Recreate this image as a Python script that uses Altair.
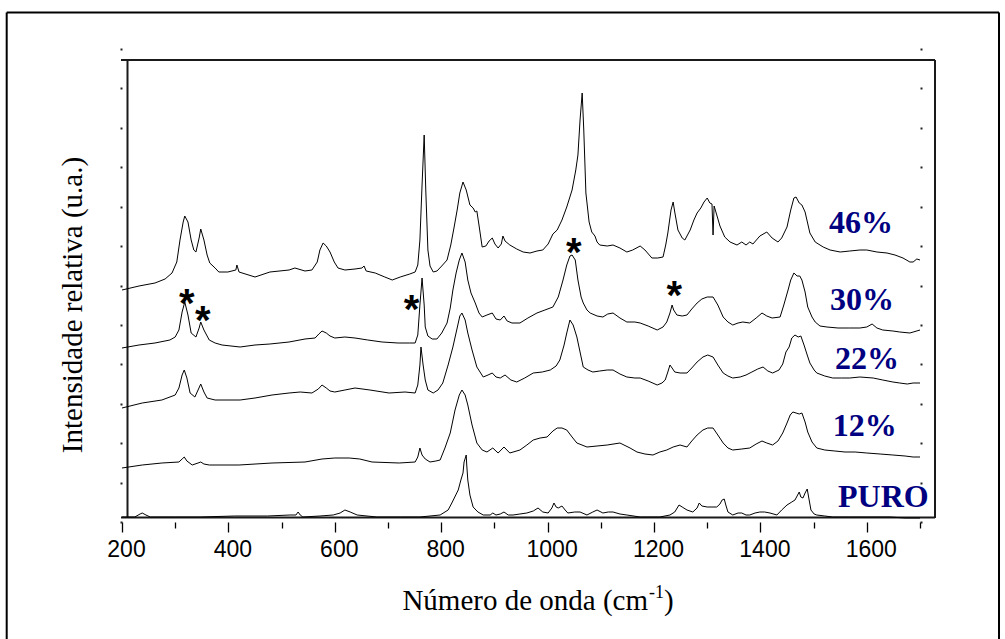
import altair as alt
import pandas as pd

# ---- data: wavenumber (cm-1) and relative intensity (a.u.) ----
x46 = [200, 232, 262, 281, 294, 303, 309, 315, 318, 324, 330, 335, 339, 345, 348, 354, 360, 365, 375, 382,
       399, 414, 416, 420, 450, 478, 514, 525, 544, 557, 567, 572, 578, 584, 591, 599, 606, 619, 638, 651,
       655, 659, 676, 694, 708, 723, 741, 751, 756, 760, 764, 768, 771, 775, 779, 785, 792, 801, 811, 818,
       824, 830, 835, 841, 847, 854, 860, 864, 867, 871, 877, 884, 890, 896, 901, 907, 913, 916, 920, 929,
       942, 954, 967, 980, 991, 1001, 1010, 1018, 1027, 1036, 1046, 1053, 1057, 1061, 1065, 1068, 1072, 1078, 1083, 1089,
       1093, 1098, 1112, 1123, 1136, 1149, 1160, 1174, 1183, 1196, 1207, 1217, 1222, 1226, 1232, 1236, 1239, 1245, 1253, 1258,
       1268, 1275, 1281, 1288, 1294, 1300, 1305, 1309, 1311, 1313, 1318, 1324, 1333, 1343, 1356, 1365, 1373, 1380, 1386, 1399,
       1412, 1422, 1433, 1440, 1450, 1457, 1463, 1467, 1473, 1478, 1484, 1493, 1503, 1518, 1531, 1550, 1568, 1587, 1600, 1619,
       1638, 1653, 1668, 1681, 1687, 1694, 1700]
y46 = [232, 236, 239, 243, 249, 260, 282, 300, 306, 300, 282, 272, 270, 284, 293, 282, 267, 259, 254, 250,
       250, 252, 257, 250, 245, 250, 252, 254, 251, 252, 260, 272, 279, 276, 270, 260, 254, 252, 253, 254,
       256, 251, 249, 245, 242, 245, 248, 250, 257, 282, 337, 387, 332, 272, 256, 250, 251, 256, 262, 277,
       294, 312, 329, 340, 332, 317, 314, 310, 311, 297, 275, 276, 281, 284, 278, 274, 278, 286, 281, 277,
       273, 270, 269, 271, 272, 278, 288, 292, 302, 315, 332, 352, 367, 402, 429, 392, 329, 300, 290, 286,
       280, 277, 276, 277, 274, 270, 272, 276, 272, 264, 264, 265, 277, 289, 312, 320, 310, 292, 284, 282,
       292, 302, 309, 314, 320, 324, 319, 318, 287, 316, 307, 296, 285, 280, 277, 280, 277, 280, 278, 286,
       290, 284, 280, 284, 295, 312, 324, 325, 319, 317, 310, 289, 280, 275, 272, 270, 271, 272, 272, 270,
       269, 267, 264, 260, 260, 263, 262]

x30 = [200, 232, 262, 290, 300, 307, 313, 318, 324, 330, 339, 345, 348, 354, 364, 375, 388, 422, 450, 478,
       514, 544, 563, 570, 576, 584, 591, 600, 619, 638, 662, 689, 719, 741, 751, 756, 760, 764, 768, 770,
       775, 783, 792, 801, 811, 817, 822, 828, 834, 839, 845, 850, 856, 864, 871, 877, 886, 896, 903, 911,
       918, 924, 933, 948, 963, 980, 995, 1010, 1020, 1029, 1036, 1042, 1046, 1052, 1057, 1063, 1067, 1074, 1080, 1093,
       1104, 1113, 1123, 1136, 1149, 1164, 1174, 1189, 1206, 1217, 1224, 1230, 1234, 1237, 1243, 1253, 1262, 1271, 1281, 1290,
       1300, 1311, 1320, 1330, 1339, 1348, 1358, 1367, 1380, 1392, 1403, 1412, 1422, 1437, 1444, 1452, 1457, 1463, 1469, 1474,
       1478, 1484, 1489, 1497, 1503, 1512, 1525, 1546, 1568, 1587, 1600, 1610, 1619, 1630, 1649, 1662, 1681, 1700]
y30 = [174, 177, 179, 182, 185, 192, 210, 220, 207, 189, 185, 194, 200, 192, 182, 179, 177, 175, 177, 178,
       180, 183, 184, 188, 191, 189, 186, 184, 185, 184, 182, 180, 179, 179, 179, 187, 217, 244, 217, 195,
       186, 183, 183, 189, 199, 214, 232, 249, 262, 269, 260, 242, 229, 219, 209, 205, 207, 209, 203, 202,
       206, 201, 199, 199, 204, 209, 212, 215, 225, 242, 257, 266, 267, 262, 242, 225, 219, 212, 209, 206,
       205, 208, 209, 204, 200, 200, 199, 196, 192, 195, 200, 209, 217, 212, 207, 206, 207, 213, 219, 223,
       225, 225, 217, 205, 200, 197, 199, 200, 199, 204, 209, 206, 204, 205, 217, 232, 242, 249, 246, 246,
       242, 230, 215, 205, 200, 196, 195, 194, 194, 194, 195, 198, 194, 192, 191, 190, 189, 192]

x22 = [200, 238, 275, 300, 307, 313, 317, 322, 328, 337, 343, 348, 354, 360, 375, 388, 422, 450, 482, 514,
       535, 557, 569, 576, 584, 591, 600, 619, 638, 666, 702, 732, 751, 756, 760, 762, 766, 770, 775, 785,
       794, 803, 813, 822, 830, 835, 839, 845, 850, 858, 867, 879, 888, 896, 903, 911, 920, 931, 942, 957,
       973, 990, 1005, 1016, 1023, 1031, 1036, 1042, 1048, 1055, 1061, 1067, 1076, 1085, 1098, 1112, 1123, 1136, 1149, 1164,
       1174, 1189, 1206, 1215, 1221, 1226, 1230, 1234, 1239, 1249, 1262, 1271, 1281, 1292, 1301, 1311, 1320, 1330, 1339, 1348,
       1362, 1373, 1384, 1395, 1405, 1414, 1423, 1435, 1442, 1448, 1454, 1459, 1465, 1471, 1476, 1482, 1488, 1493, 1501, 1506,
       1521, 1536, 1553, 1568, 1587, 1612, 1630, 1649, 1662, 1676, 1687, 1700]
y22 = [114, 119, 122, 127, 134, 147, 152, 144, 129, 125, 132, 138, 130, 124, 122, 122, 122, 124, 127, 129,
       130, 129, 133, 137, 134, 131, 130, 132, 134, 132, 129, 130, 129, 137, 157, 175, 157, 142, 132, 129,
       132, 139, 157, 175, 194, 206, 209, 202, 189, 172, 155, 145, 147, 149, 145, 144, 147, 142, 140, 144,
       149, 150, 152, 156, 162, 177, 189, 202, 197, 185, 170, 155, 152, 150, 151, 152, 152, 148, 145, 144,
       144, 141, 137, 139, 142, 150, 157, 154, 150, 149, 149, 154, 160, 165, 167, 165, 157, 149, 146, 144,
       145, 147, 150, 153, 155, 151, 149, 152, 158, 170, 175, 184, 187, 185, 186, 177, 167, 159, 152, 149,
       146, 144, 144, 144, 145, 144, 142, 140, 139, 138, 139, 139]

x12 = [200, 238, 275, 307, 313, 317, 322, 332, 343, 348, 354, 364, 420, 482, 544, 576, 600, 627, 647, 670,
       721, 751, 756, 760, 764, 770, 779, 790, 798, 807, 817, 826, 834, 839, 845, 850, 858, 867, 877, 886,
       897, 907, 918, 929, 948, 961, 973, 986, 999, 1010, 1018, 1027, 1036, 1046, 1055, 1074, 1093, 1112, 1136, 1155,
       1168, 1183, 1198, 1211, 1224, 1236, 1249, 1262, 1271, 1281, 1292, 1301, 1311, 1320, 1330, 1339, 1348, 1365, 1380, 1392,
       1403, 1412, 1423, 1433, 1442, 1450, 1456, 1461, 1467, 1473, 1478, 1484, 1489, 1497, 1506, 1521, 1540, 1559, 1578, 1600,
       1625, 1649, 1672, 1687, 1700]
y12 = [54, 57, 59, 60, 63, 65, 61, 57, 59, 60, 58, 57, 57, 59, 60, 63, 64, 64, 63, 60,
       59, 60, 65, 74, 67, 63, 60, 61, 62, 74, 89, 112, 127, 132, 127, 117, 97, 79, 72, 70,
       74, 69, 75, 69, 72, 77, 82, 84, 85, 91, 94, 94, 92, 85, 79, 75, 76, 77, 79, 74,
       70, 68, 67, 70, 72, 75, 77, 75, 81, 87, 92, 94, 94, 87, 79, 74, 72, 73, 74, 78,
       81, 79, 77, 81, 89, 99, 107, 110, 109, 108, 109, 100, 90, 80, 74, 72, 71, 70, 70, 69,
       68, 67, 66, 65, 65]

x0 = [200, 224, 234, 238, 245, 253, 300, 347, 412, 473, 516, 527, 531, 535, 540, 572, 597, 610, 619, 629,
      642, 679, 723, 760, 798, 813, 820, 832, 837, 841, 843, 847, 848, 850, 854, 860, 869, 879, 892, 897,
      903, 911, 918, 926, 935, 948, 961, 973, 982, 991, 1001, 1008, 1012, 1016, 1020, 1027, 1033, 1038, 1051, 1061,
      1074, 1085, 1093, 1104, 1114, 1123, 1136, 1149, 1174, 1211, 1230, 1239, 1247, 1253, 1262, 1273, 1281, 1285, 1290, 1300,
      1309, 1318, 1324, 1328, 1332, 1335, 1339, 1348, 1358, 1365, 1373, 1380, 1390, 1399, 1408, 1418, 1431, 1440, 1450, 1459,
      1465, 1469, 1473, 1476, 1480, 1484, 1488, 1491, 1495, 1501, 1506, 1521, 1536, 1568, 1600, 1644, 1672, 1700]
y0 = [5, 5, 8, 9, 7, 5, 5, 5, 6, 6, 7, 7, 10, 7, 5, 6, 7, 9, 12, 10,
      7, 5, 5, 5, 7, 12, 19, 32, 42, 49, 60, 67, 57, 42, 27, 15, 10, 7, 7, 9,
      7, 8, 10, 7, 7, 8, 9, 11, 14, 10, 9, 14, 19, 15, 14, 16, 12, 9, 10, 10,
      7, 10, 12, 9, 10, 10, 8, 7, 5, 5, 7, 10, 17, 15, 12, 10, 14, 19, 16, 15,
      15, 15, 18, 22, 23, 17, 10, 7, 9, 9, 7, 7, 9, 10, 10, 9, 7, 12, 17, 20,
      22, 26, 30, 25, 24, 29, 33, 24, 12, 8, 7, 6, 5, 5, 5, 5, 4, 4]

series_names = ["46%", "30%", "22%", "12%", "PURO"]
series_x = [x46, x30, x22, x12, x0]
series_y = [y46, y30, y22, y12, y0]

# series labels (anchor in data coordinates)
label_x = [1529, 1531, 1540, 1536, 1546]
label_y = [289, 212, 153, 86, 15]

# asterisks marking peaks (data coordinates)
star_x = [322, 352, 744, 1049, 1238]
star_y = [228, 211, 222, 279.5, 236.5]

major_ticks = [200, 400, 600, 800, 1000, 1200, 1400, 1600]
minor_ticks = [300, 500, 700, 900, 1100, 1300, 1500, 1700]
y_ticks = [0, 39.4, 78.8, 118.3, 157.7, 197.1, 236.5, 275.9, 315.4, 354.8, 394.2, 433.6, 473]

# ---- build tables ----
frames = []
for name, xs, ys in zip(series_names, series_x, series_y):
    frames.append(pd.DataFrame({"serie": name, "onda": xs, "intens": ys, "ordem": list(range(len(xs)))}))
spectra = pd.concat(frames, ignore_index=True)
labels = pd.DataFrame({"txt": series_names, "onda": label_x, "intens": label_y})
stars = pd.DataFrame({"onda": star_x, "intens": star_y})

xscale = alt.Scale(domain=[200, 1700], nice=False)
yscale = alt.Scale(domain=[0, 473], nice=False, zero=False)

one = alt.Data(values=[{"k": 1}])
FRAME = "#1a1a1a"

def hrule(x1, x2, y, w=2, c=FRAME):
    return alt.Chart(one).mark_rule(color=c, strokeWidth=w).encode(
        x=alt.value(x1), x2=alt.value(x2), y=alt.value(y))

def vrule(x, y1, y2, w=2, c=FRAME):
    return alt.Chart(one).mark_rule(color=c, strokeWidth=w).encode(
        x=alt.value(x), y=alt.value(y1), y2=alt.value(y2))

# outer frame and plot box (pixel positions relative to plot origin)
outer = [hrule(-115.3, 877, -36.5, 2, "black"), vrule(-115.3, -36.5, 600, 2, "black"),
         vrule(877, -36.5, 600, 2, "black")]
box = [hrule(-1, 813, 11), hrule(-1, 813, 468.5), vrule(5.5, 11, 469), vrule(813, 11, 469)]

lines = alt.Chart(spectra).mark_line(color="black", strokeWidth=1).encode(
    x=alt.X("onda:Q", scale=xscale,
            axis=alt.Axis(orient="bottom", values=major_ticks, tickSize=10, tickWidth=1.3,
                          tickColor="black", domain=False, grid=False, title=None, format="d",
                          labelFont="Liberation Sans", labelFontSize=23, labelColor="black",
                          labelBaseline="alphabetic", labelPadding=24.5, labelOffset=4,
                          labelFlush=False, labelOverlap=False)),
    y=alt.Y("intens:Q", scale=yscale,
            axis=alt.Axis(orient="left", values=y_ticks, tickSize=2, tickWidth=2, tickColor="#222",
                          domain=False, grid=False, labels=False, title=None)),
    detail="serie:N",
    order="ordem:Q",
)

label_layer = alt.Chart(labels).mark_text(
    font="Liberation Serif", fontWeight="bold", fontSize=32, color="#000080",
    align="left", baseline="alphabetic").encode(
    x=alt.X("onda:Q", scale=xscale,
            axis=alt.Axis(orient="bottom", values=minor_ticks, tickSize=6, tickWidth=1.3,
                          tickColor="black", domain=False, grid=False, labels=False, title=None)),
    y=alt.Y("intens:Q", scale=yscale,
            axis=alt.Axis(orient="right", values=y_ticks, tickSize=2, tickWidth=2, tickColor="#222",
                          domain=False, grid=False, labels=False, title=None)),
    text="txt:N",
)

star_layer = alt.Chart(stars).mark_text(
    text="*", font="Liberation Sans", fontWeight="bold", fontSize=40, color="black",
    align="center", baseline="alphabetic", dy=23).encode(
    x=alt.X("onda:Q", scale=xscale, axis=None),
    y=alt.Y("intens:Q", scale=yscale, axis=None),
)

TF = "Liberation Serif"
xtitle = [
    alt.Chart(one).mark_text(text="Número de onda (cm", font=TF, fontSize=29, align="right",
                             baseline="alphabetic", color="black").encode(x=alt.value(526), y=alt.value(561)),
    alt.Chart(one).mark_text(text="-1", font=TF, fontSize=18, align="left",
                             baseline="alphabetic", color="black").encode(x=alt.value(527), y=alt.value(549)),
    alt.Chart(one).mark_text(text=")", font=TF, fontSize=29, align="left",
                             baseline="alphabetic", color="black").encode(x=alt.value(542), y=alt.value(561)),
]
ytitle = alt.Chart(one).mark_text(text="Intensidade relativa (u.a.)", font=TF, fontSize=29, angle=270,
                                  align="center", baseline="alphabetic", color="black").encode(
    x=alt.value(-40), y=alt.value(256))

chart = alt.layer(*outer, *box, lines, label_layer, star_layer, *xtitle, ytitle).resolve_axis(
    x="independent", y="independent"
).properties(
    width=798, height=473,
    padding={"left": 122, "top": 49, "right": 85, "bottom": 117},
    autosize=alt.AutoSizeParams(type="none"),
    background="white",
).configure_view(stroke=None)

chart.save("out.html", embed_options={"renderer": "svg", "actions": False})
